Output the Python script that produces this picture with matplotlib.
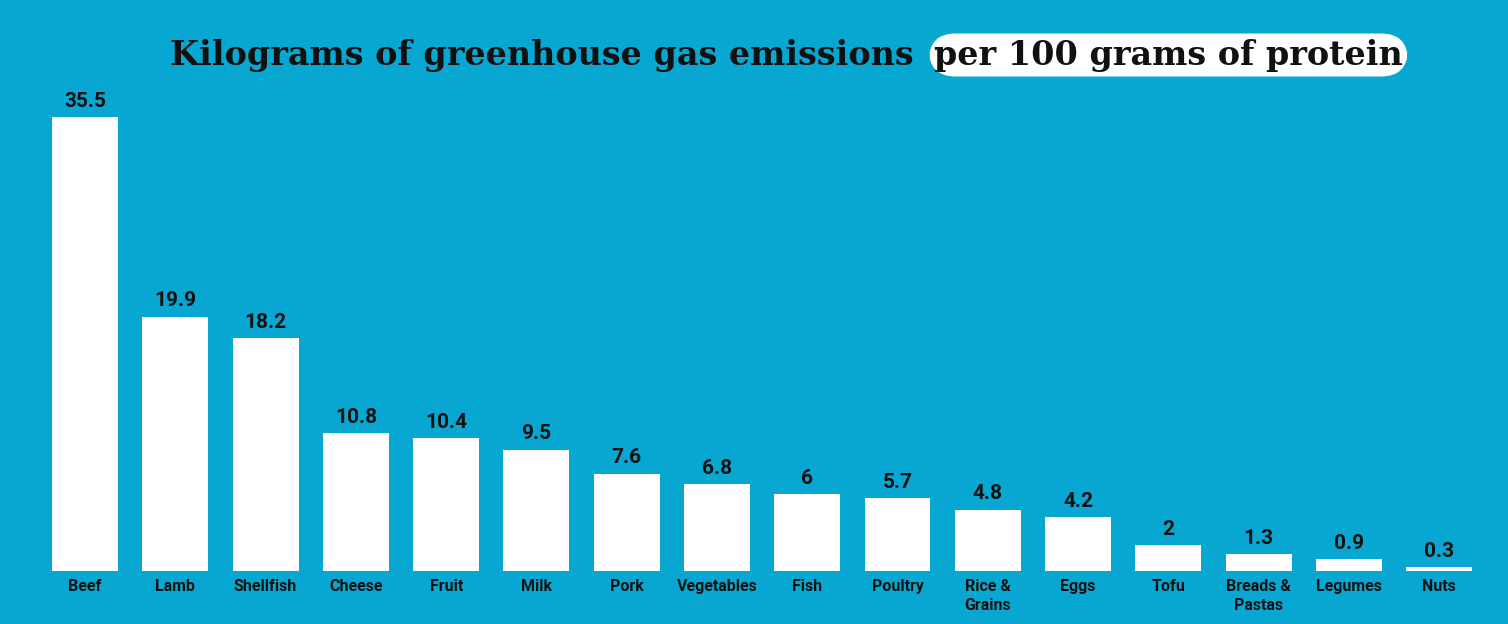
import matplotlib
matplotlib.use("Agg")
import matplotlib.pyplot as plt

categories = ["Beef","Lamb","Shellfish","Cheese","Fruit","Milk","Pork","Vegetables","Fish",
              "Poultry","Rice &\nGrains","Eggs","Tofu","Breads &\nPastas","Legumes","Nuts"]
values = [35.5,19.9,18.2,10.8,10.4,9.5,7.6,6.8,6,5.7,4.8,4.2,2,1.3,0.9,0.3]
labels = ["35.5","19.9","18.2","10.8","10.4","9.5","7.6","6.8","6","5.7","4.8","4.2","2","1.3","0.9","0.3"]

bg = "#08A7D1"
W, H = 1508, 624
fig = plt.figure(figsize=(W/100, H/100), dpi=100, facecolor=bg)
left = 39.9/W; right = 1484.3/W
bottom = 1 - 571/H; top = 1 - 80/H
ax = fig.add_axes([left, bottom, right-left, top-bottom], facecolor=bg)
x = list(range(len(categories)))
ax.bar(x, values, width=0.73, color="white")
for xi, v, l in zip(x, values, labels):
    ax.text(xi, v + 0.5, l, ha="center", va="bottom", fontsize=15, fontweight="bold",
            family="Roboto", color="#111111")
ax.set_xlim(-0.5, 15.5)
ax.set_ylim(0, 38.4)
ax.set_xticks(x)
ax.set_xticklabels(categories, fontsize=11.5, fontweight="bold", family="Roboto", color="#111111",
                   linespacing=1.3)
ax.tick_params(axis="x", length=0, pad=6)
ax.set_yticks([])
for s in ax.spines.values():
    s.set_visible(False)

fig.text(925/W, 1-55/H, "Kilograms of greenhouse gas emissions ", ha="right", va="center",
         fontsize=24, fontweight="bold", family="DejaVu Serif", color="#111111")
fig.text(934/W, 1-55/H, "per 100 grams of protein", ha="left", va="center",
         fontsize=24, fontweight="bold", family="DejaVu Serif", color="#111111",
         bbox=dict(boxstyle="round,pad=0.15,rounding_size=0.8", fc="white", ec="none"))
fig.savefig("out.png", dpi=100, facecolor=bg)
